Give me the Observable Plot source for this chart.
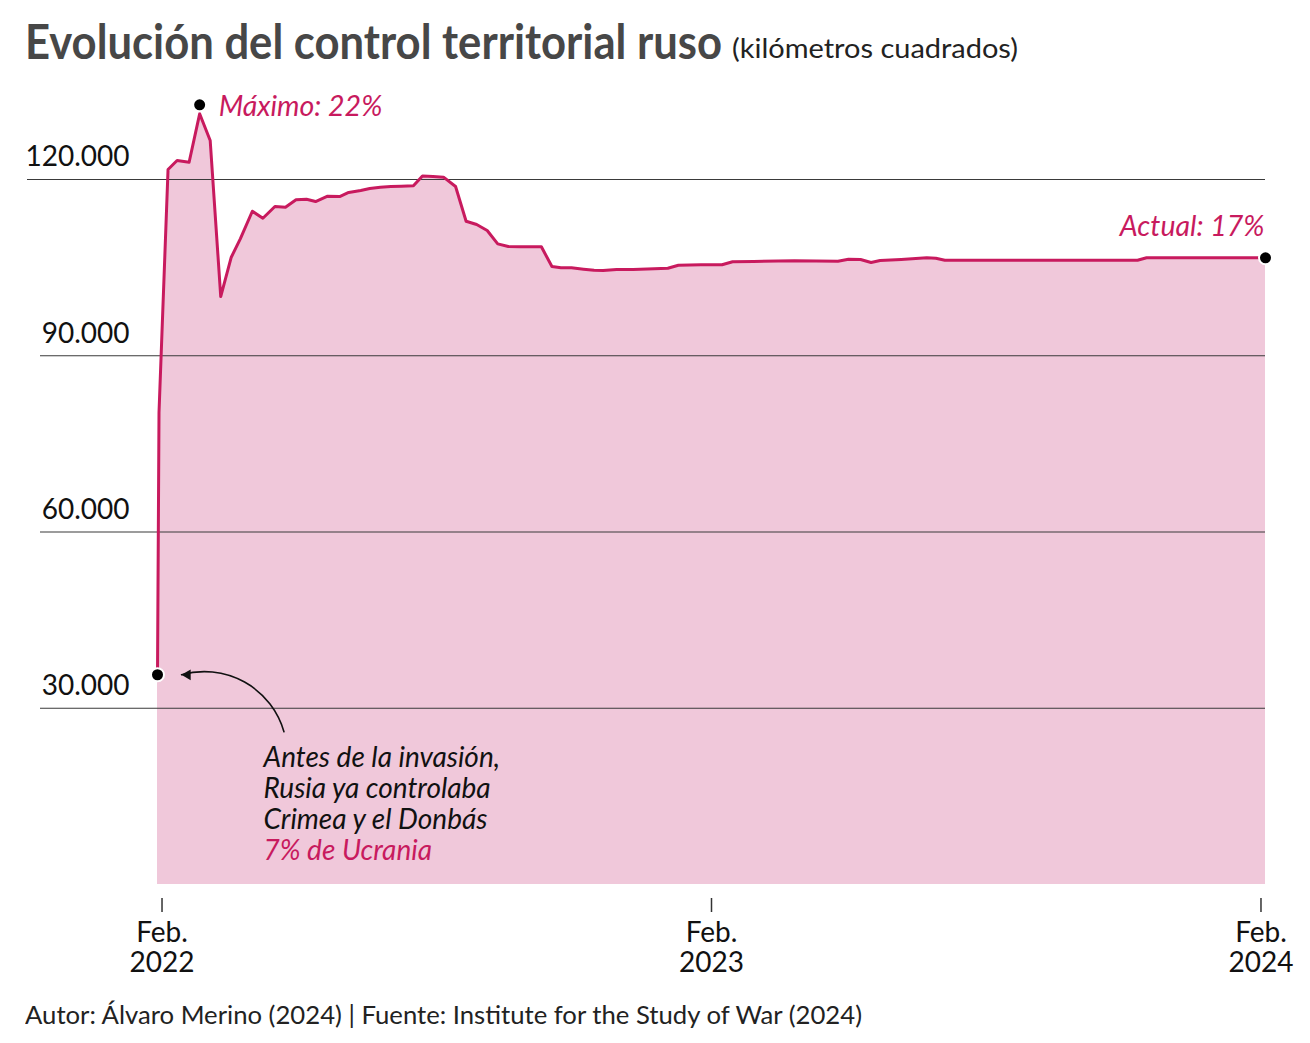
<!DOCTYPE html>
<html>
<head>
<meta charset="utf-8">
<script src="https://cdn.jsdelivr.net/npm/d3@7"></script>
<script src="https://cdn.jsdelivr.net/npm/@observablehq/plot@0.6"></script>
<style>
  html, body { margin: 0; padding: 0; background: #fff; }
  #wrap { position: relative; width: 1310px; height: 1043px; overflow: hidden; font-family: Lato, "Open Sans", sans-serif; }
  .hline { position: absolute; white-space: nowrap; line-height: 1; transform-origin: 0 0; }
  #title { left: 25px; top: 17px; font-size: 48px; font-weight: 700; color: #474747; }
  #subtitle { left: 732px; top: 35px; font-size: 26px; font-weight: 400; color: #222; }
  #caption { left: 25px; top: 1002px; font-size: 25.5px; color: #222; }
  #chart { position: absolute; left: 0; top: 85px; }
</style>
</head>
<body>
<div id="wrap">
  <div id="title" class="hline">Evolución del control territorial ruso</div>
  <div id="subtitle" class="hline">(kilómetros cuadrados)</div>
  <div id="chart"></div>
  <div id="caption" class="hline">Autor: Álvaro Merino (2024) | Fuente: Institute for the Study of War (2024)</div>
</div>
<script>
// Territory under Russian control in Ukraine, km²
const dates = [
  "2022-02-21", "2022-02-22", "2022-02-28", "2022-03-06", "2022-03-14", "2022-03-21",
  "2022-03-28", "2022-04-04", "2022-04-11", "2022-04-17", "2022-04-25", "2022-05-02",
  "2022-05-10", "2022-05-17", "2022-05-24", "2022-05-31", "2022-06-06", "2022-06-14",
  "2022-06-22", "2022-06-28", "2022-07-06", "2022-07-12", "2022-07-19", "2022-07-26",
  "2022-08-02", "2022-08-10", "2022-08-16", "2022-08-23", "2022-08-30", "2022-09-07",
  "2022-09-14", "2022-09-21", "2022-09-28", "2022-10-05", "2022-10-12", "2022-10-20",
  "2022-10-27", "2022-11-03", "2022-11-10", "2022-11-16", "2022-11-23", "2022-12-01",
  "2022-12-08", "2022-12-14", "2022-12-23", "2023-01-03", "2023-01-17", "2023-01-26",
  "2023-02-02", "2023-02-17", "2023-03-03", "2023-03-10", "2023-03-24", "2023-04-20",
  "2023-05-19", "2023-05-26", "2023-06-03", "2023-06-10", "2023-06-16", "2023-06-30",
  "2023-07-17", "2023-07-23", "2023-07-29", "2023-09-04", "2023-12-04", "2023-12-10",
  "2024-02-27"
];
const km2 = [
  35700, 80300, 121700, 123230, 122940, 131180,
  126640, 100080, 106770, 109900, 114600, 113410,
  115400, 115280, 116540, 116640, 116250, 117160,
  117100, 117790, 118130, 118470, 118690, 118810,
  118860, 118920, 120600, 120500, 120400, 118810,
  112900, 112340, 111320, 109050, 108590, 108540,
  108540, 108540, 105190, 104970, 104970, 104730,
  104560, 104510, 104680, 104680, 104800, 104900,
  105410, 105480, 105480, 105990, 106040, 106160,
  106090, 106430, 106380, 105870, 106210, 106380,
  106670, 106600, 106260, 106260, 106260, 106670,
  106670
];

const yTicks = [30000, 60000, 90000, 120000];
const xTicks = ["2022-02-24", "2023-02-24", "2024-02-24"];

const peakLabel = "Máximo: 22%";
const currentLabel = "Actual: 17%";
const noteLines = "Antes de la invasión,\nRusia ya controlaba\nCrimea y el Donbás";
const noteShare = "7% de Ucrania";

// arrow pointing from the note to the pre-invasion value
const noteArrowFrom = {date: "2022-05-16", value: 26000};
const noteArrowTo = {date: "2022-03-09", value: 35700};

const pink = "#c81a5e";
const pinkFill = "#f0c8da";
const gridColor = "#3a3a3a";

const parse = d3.utcParse("%Y-%m-%d");
const data = dates.map((d, i) => ({date: parse(d), value: km2[i]}));
const first = data[0];
const last = data[data.length - 1];
const peak = data.reduce((a, b) => (b.value > a.value ? b : a));
const arrowEnd = {date: parse(noteArrowTo.date), value: noteArrowTo.value};

const fmt = d3.formatLocale({decimal: ",", thousands: ".", grouping: [3], currency: ["", "€"]}).format(",d");

const chart = Plot.plot({
  width: 1310,
  height: 900,
  marginLeft: 157,
  marginRight: 45,
  marginTop: 94,
  marginBottom: 101,
  style: {fontFamily: "Lato, sans-serif", fontSize: "28px", color: "#111", background: "transparent", overflow: "visible"},
  x: {type: "utc", domain: [first.date, last.date]},
  y: {domain: [0, 120000]},
  marks: [
    Plot.areaY(data, {x: "date", y: "value", fill: pinkFill}),
    Plot.ruleY([120000], {stroke: gridColor, strokeWidth: 1.2, insetLeft: -130}),
    Plot.ruleY(yTicks.filter(t => t < 120000), {stroke: gridColor, strokeWidth: 1.2, insetLeft: -117}),
    Plot.axisY(yTicks, {
      tickSize: 0, tickPadding: 28, dy: -22, label: null,
      tickFormat: fmt, fontSize: 28, fill: "#111"
    }),
    Plot.axisX(xTicks.map(parse), {
      tickSize: 14, dy: 14, tickPadding: 8, label: null,
      stroke: "#333", strokeWidth: 1.5,
      tickFormat: d => "Feb.\n" + d.getUTCFullYear(),
      fontSize: 28, lineHeight: 1.07, fill: "#111"
    }),
    Plot.lineY(data, {x: "date", y: "value", stroke: pink, strokeWidth: 3, strokeLinejoin: "round"}),
    Plot.arrow([0], {
      x1: () => parse(noteArrowFrom.date), y1: () => noteArrowFrom.value,
      x2: () => arrowEnd.date, y2: () => arrowEnd.value,
      bend: -45, stroke: "#111", strokeWidth: 1.6, headLength: 0
    }),
    // filled arrowhead
    Plot.dot([arrowEnd], {x: "date", y: "value", symbol: "triangle", r: 4, rotate: -90, dx: 6, fill: "#111", stroke: null}),
    Plot.dot([first, last], {x: "date", y: "value", r: 6.5, fill: "#000", stroke: "#fff", strokeWidth: 2}),
    Plot.dot([peak], {x: "date", y: "value", r: 6.5, dy: -9, fill: "#000", stroke: "#fff", strokeWidth: 2}),
    Plot.text([peak], {x: "date", y: "value", text: () => peakLabel, dx: 19, dy: -7, textAnchor: "start",
      fontStyle: "italic", fill: pink, fontSize: 28.5}),
    Plot.text([last], {x: "date", y: "value", text: () => currentLabel, dx: -1, dy: -31, textAnchor: "end",
      fontStyle: "italic", fill: pink, fontSize: 28.5}),
    Plot.text([first], {x: "date", y: "value", text: () => noteLines, dx: 106, dy: 70, textAnchor: "start",
      lineAnchor: "top", lineHeight: 1.107, fontStyle: "italic", fill: "#111", fontSize: 28}),
    Plot.text([first], {x: "date", y: "value", text: () => noteShare, dx: 106, dy: 165, textAnchor: "start",
      lineAnchor: "top", fontStyle: "italic", fill: pink, fontSize: 28})
  ]
});
document.getElementById("chart").appendChild(chart);

// Fit the heading and caption lines to their set widths
function fitWidth(id, target) {
  const el = document.getElementById(id);
  const w = el.getBoundingClientRect().width;
  if (w > 0) el.style.transform = `scaleX(${target / w})`;
}
fitWidth("title", 697);
fitWidth("subtitle", 286);
fitWidth("caption", 837);
</script>
</body>
</html>
